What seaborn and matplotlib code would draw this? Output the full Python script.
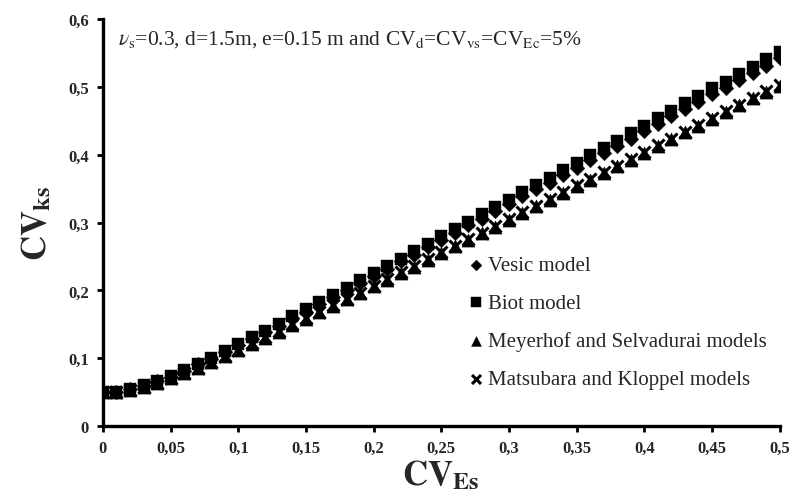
import numpy as np
import pandas as pd
import seaborn as sns
import matplotlib
matplotlib.use("Agg")
import matplotlib.pyplot as plt

# CV of the soil modulus (x axis)
cv_es = [round(0.01 * i, 2) for i in range(51)]

vesic = [0.050, 0.051, 0.055, 0.059, 0.066, 0.073, 0.082, 0.091, 0.099, 0.109,
         0.119, 0.129, 0.139, 0.148, 0.159, 0.169, 0.180, 0.191, 0.200, 0.211,
         0.222, 0.232, 0.243, 0.253, 0.264, 0.275, 0.285, 0.296, 0.306, 0.317,
         0.328, 0.339, 0.350, 0.359, 0.370, 0.381, 0.392, 0.403, 0.413, 0.424,
         0.435, 0.446, 0.457, 0.467, 0.478, 0.489, 0.499, 0.510, 0.520, 0.531,
         0.542]

biot = [0.050, 0.051, 0.055, 0.060, 0.067, 0.074, 0.083, 0.092, 0.101, 0.111,
        0.121, 0.131, 0.141, 0.151, 0.162, 0.172, 0.183, 0.194, 0.204, 0.215,
        0.226, 0.236, 0.247, 0.258, 0.269, 0.280, 0.290, 0.301, 0.312, 0.323,
        0.334, 0.345, 0.356, 0.366, 0.377, 0.388, 0.399, 0.410, 0.421, 0.432,
        0.443, 0.454, 0.465, 0.476, 0.487, 0.498, 0.508, 0.519, 0.530, 0.541,
        0.552]

meyerhof = [0.050, 0.051, 0.054, 0.058, 0.064, 0.071, 0.078, 0.086, 0.094, 0.103,
            0.112, 0.121, 0.130, 0.139, 0.149, 0.158, 0.168, 0.177, 0.187, 0.196,
            0.206, 0.216, 0.226, 0.235, 0.245, 0.255, 0.265, 0.275, 0.284, 0.294,
            0.304, 0.314, 0.324, 0.334, 0.344, 0.354, 0.363, 0.373, 0.383, 0.393,
            0.403, 0.413, 0.423, 0.433, 0.443, 0.453, 0.463, 0.473, 0.483, 0.493,
            0.502]

matsubara = [0.050, 0.051, 0.054, 0.058, 0.064, 0.071, 0.078, 0.086, 0.095, 0.104,
             0.113, 0.122, 0.131, 0.140, 0.150, 0.159, 0.169, 0.178, 0.188, 0.197,
             0.207, 0.217, 0.227, 0.236, 0.246, 0.256, 0.266, 0.276, 0.285, 0.295,
             0.305, 0.315, 0.325, 0.335, 0.345, 0.355, 0.364, 0.374, 0.384, 0.394,
             0.404, 0.414, 0.424, 0.434, 0.444, 0.454, 0.464, 0.474, 0.484, 0.494,
             0.503]

series_names = ["Vesic model", "Biot model",
                "Meyerhof and Selvadurai models", "Matsubara and Kloppel models"]

x_ticks = [0, 0.05, 0.1, 0.15, 0.2, 0.25, 0.3, 0.35, 0.4, 0.45, 0.5]
x_ticklabels = ["0", "0,05", "0,1", "0,15", "0,2", "0,25", "0,3", "0,35", "0,4", "0,45", "0,5"]
y_ticks = [0, 0.1, 0.2, 0.3, 0.4, 0.5, 0.6]
y_ticklabels = ["0", "0,1", "0,2", "0,3", "0,4", "0,5", "0,6"]

df = pd.DataFrame({
    "CV_Es": cv_es * 4,
    "CV_ks": vesic + biot + meyerhof + matsubara,
    "model": np.repeat(series_names, len(cv_es)),
})

sns.set_style("white")
plt.rcParams["font.family"] = ["Liberation Serif", "DejaVu Serif"]
plt.rcParams["mathtext.fontset"] = "stix"

fig = plt.figure(figsize=(7.98, 5.02), dpi=100)
ax = fig.add_axes([0.129, 0.149, 0.848, 0.811])

# marker per model
marker_map = {
    "Vesic model": ("D", 55),
    "Biot model": ("s", 80),
    "Meyerhof and Selvadurai models": ("^", 90),
    "Matsubara and Kloppel models": ("x", 75),
}

draw_order = ["Matsubara and Kloppel models", "Meyerhof and Selvadurai models",
              "Vesic model", "Biot model"]
for name in draw_order:
    m, s = marker_map[name]
    sub = df[df["model"] == name]
    if m == "x":
        sns.scatterplot(data=sub, x="CV_Es", y="CV_ks", marker=m, s=s, color="black",
                        linewidth=2.2, ax=ax, label=name, zorder=3)
    else:
        sns.scatterplot(data=sub, x="CV_Es", y="CV_ks", marker=m, s=s, color="black",
                        edgecolor="black", linewidth=0.3, ax=ax, label=name, zorder=3)

ax.set_xlim(0, 0.5)
ax.set_ylim(0, 0.6)
ax.set_xticks(x_ticks)
ax.set_xticklabels(x_ticklabels)
ax.set_yticks(y_ticks)
ax.set_yticklabels(y_ticklabels)

for side in ["top", "right"]:
    ax.spines[side].set_visible(False)
for side in ["left", "bottom"]:
    ax.spines[side].set_color("black")
    ax.spines[side].set_linewidth(2.4)

ax.tick_params(axis="both", direction="out", length=4, width=2, color="black",
               labelsize=12, pad=6, left=True, bottom=True)
for lab in ax.get_xticklabels() + ax.get_yticklabels():
    lab.set_fontweight("bold")

ax.set_xlabel(r"$\mathbf{CV}_{\mathbf{Es}}$", fontsize=25, labelpad=2)
ax.set_ylabel(r"$\mathbf{CV}_{\mathbf{ks}}$", fontsize=25, labelpad=10)

ax.text(0.022, 0.978,
        r"$\nu_\mathrm{s}$=0.3, d=1.5m, e=0.15 m and CV$_\mathrm{d}$=CV$_\mathrm{vs}$=CV$_\mathrm{Ec}$=5%",
        transform=ax.transAxes, ha="left", va="top", fontsize=15.5)

handles, labels = ax.get_legend_handles_labels()
order = [labels.index(n) for n in series_names]
leg = ax.legend([handles[i] for i in order], series_names,
                loc="upper left", bbox_to_anchor=(0.523, 0.44), frameon=False,
                fontsize=15, handletextpad=0.1, handlelength=1.0, markerscale=0.75,
                labelspacing=0.88, borderaxespad=0)

fig.savefig("out.png", dpi=100)
